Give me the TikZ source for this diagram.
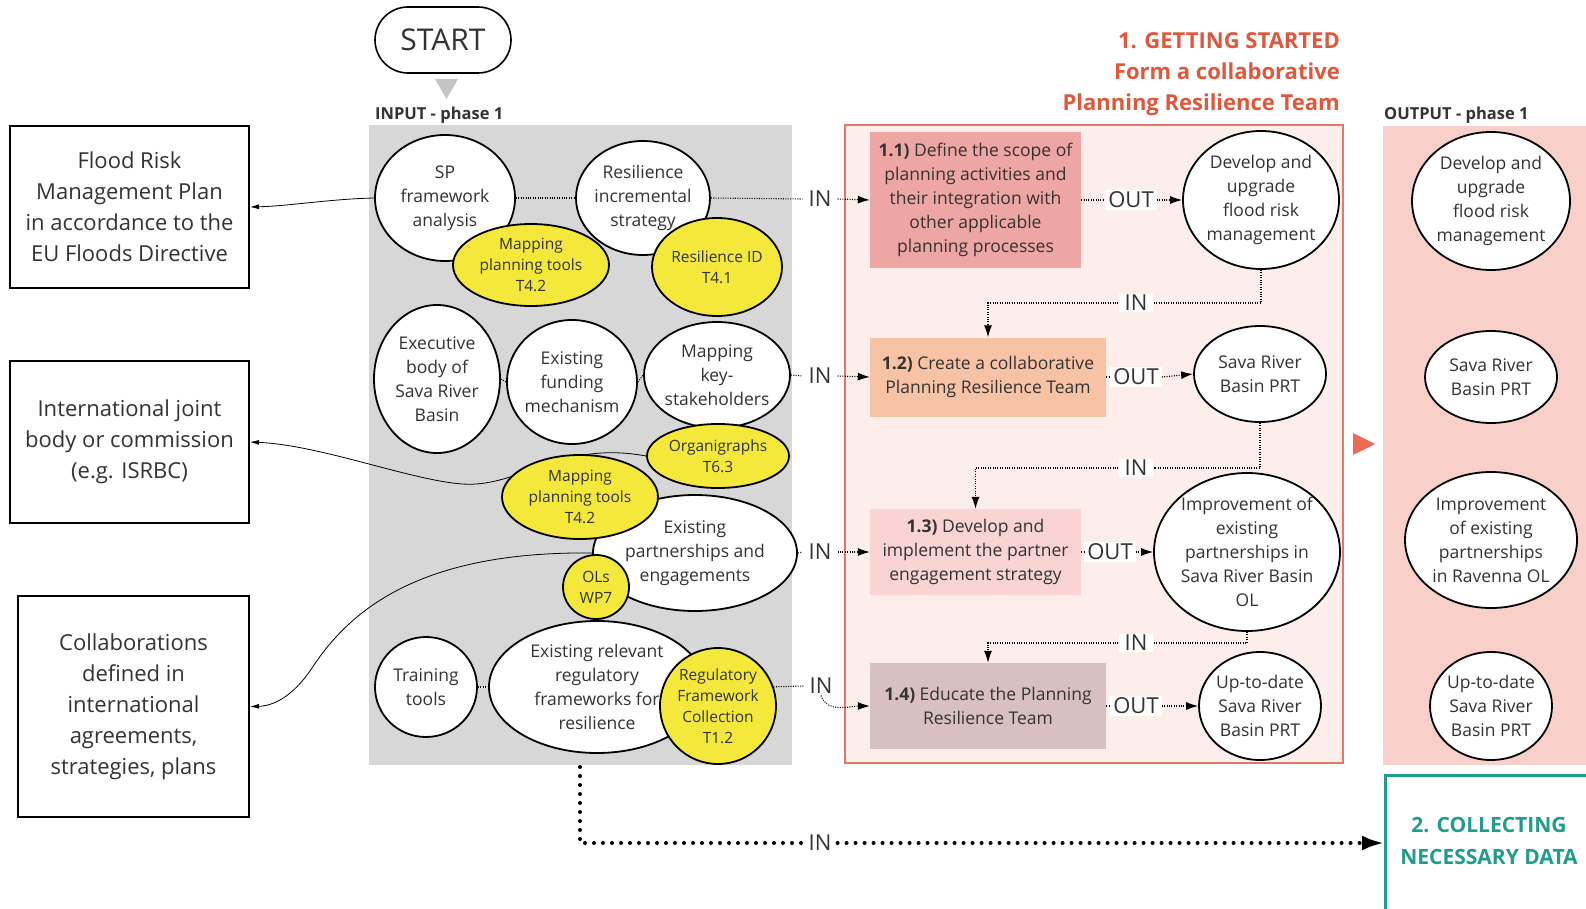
\documentclass[tikz,border=0pt]{standalone}
\usepackage{fontspec}
\setmainfont{Open Sans}
\usetikzlibrary{shapes.geometric,arrows.meta}
\pgfdeclarelayer{back}\pgfdeclarelayer{mid}
\pgfsetlayers{back,mid,main}
\definecolor{txt}{HTML}{333333}
\definecolor{graybg}{HTML}{D7D7D7}
\definecolor{yelc}{HTML}{F4E93A}
\definecolor{phasefill}{HTML}{FDEEEC}
\definecolor{phaseborder}{HTML}{DE7A68}
\definecolor{titlec}{HTML}{E0583C}
\definecolor{sa}{HTML}{EDA6A3}
\definecolor{sb}{HTML}{F8C3A4}
\definecolor{sc}{HTML}{FAD3D3}
\definecolor{sd}{HTML}{D9C0C0}
\definecolor{outfill}{HTML}{F8CFC9}
\definecolor{tric}{HTML}{EB6B55}
\definecolor{tealc}{HTML}{1E9C8C}
\definecolor{gtri}{HTML}{C4C4C4}
\begin{document}
\begin{tikzpicture}[x=1pt,y=-1pt,
  ell/.style={ellipse, draw=black, line width=1.8pt, fill=white, inner sep=-14pt, align=center, text=txt, font=\fontsize{17.5}{24}\selectfont},
  yel/.style={ell, fill=yelc, font=\fontsize{15.5}{21}\selectfont},
  sz/.style 2 args={minimum width={2*#1pt}, minimum height={2*#2pt}},
  stepbox/.style={rectangle, inner sep=0pt, align=center, text=txt, font=\fontsize{17.5}{24}\selectfont},
  lbox/.style={rectangle, draw=black, line width=2pt, inner sep=0pt, align=center, text=txt, font=\fontsize{22}{31}\selectfont},
  lab/.style={fill=white, inner xsep=3pt, inner ysep=1.5pt, text=txt, font=\fontsize{22}{22}\selectfont},
  labw/.style={lab, inner xsep=6pt},
  dotl/.style={line width=1.1pt, dash pattern=on 1pt off 1.4pt},
  dotarr/.style={dotl, -{Latex[length=12pt,width=8pt]}},
  thinarr/.style={line width=0.8pt, -{Latex[length=9pt,width=5pt]}},
  bigdot/.style={line width=4pt, line cap=round, dash pattern=on 0pt off 9pt},
  hdr/.style={inner sep=0pt, text=txt, font=\bfseries\fontsize{16.5}{20}\selectfont}
]
\useasboundingbox (0,0) rectangle (1586,909);
\clip (0,0) rectangle (1586,909);

% backgrounds
\begin{pgfonlayer}{back}
\fill[white] (0,0) rectangle (1586,909);
\fill[graybg] (369,125) rectangle (792,765);
\draw[fill=phasefill, draw=phaseborder, line width=2pt] (845,125) rectangle (1343,763);
\fill[outfill] (1383,126) rectangle (1586,765);
\end{pgfonlayer}

% start
\node[draw=black, line width=1.6pt, rounded corners=33pt, minimum width=136pt, minimum height=66pt, text=txt, font=\fontsize{30}{30}\selectfont] (start) at (443,40) {START};
\fill[gtri] (435,79) -- (458,79) -- (446.5,99) -- cycle;
\node[hdr, anchor=west] (inlab) at (375,115) {INPUT - phase 1};
\node[hdr, anchor=west] (outlab) at (1384,115) {OUTPUT - phase 1};

% title
\node[anchor=east, align=right, inner sep=0pt, text=titlec, font=\bfseries\fontsize{22}{31}\selectfont] (title) at (1340,74) {1. GETTING STARTED\\Form a collaborative\\Planning Resilience Team};

% left boxes
\node[lbox, minimum width=239pt, minimum height=162pt] (b1) at (129.5,207) {Flood Risk\\Management Plan\\in accordance to the\\EU Floods Directive};
\node[lbox, minimum width=239pt, minimum height=162pt] (b2) at (129.5,442) {International joint\\body or commission\\(e.g. ISRBC)};
\node[lbox, minimum width=231pt, minimum height=221pt] (b3) at (133.5,706.5) {Collaborations\\defined in\\international\\agreements,\\strategies, plans};

% input ellipses
\node[ell, sz={70}{63}] (sp) at (445,198) {SP\\framework\\analysis};
\node[ell, sz={67}{57}] (ri) at (643,198) {Resilience\\incremental\\strategy};
\node[yel, sz={78}{41}] (mp1) at (531,265) {Mapping\\planning tools\\T4.2};
\node[yel, sz={65}{49}] (rid) at (717,267) {Resilience ID\\T4.1};
\node[ell, sz={63}{74}] (eb) at (437,379) {Executive\\body of\\Sava River\\Basin};
\node[ell, sz={65}{62}] (ef) at (572,382) {Existing\\funding\\mechanism};
\node[ell, sz={73}{53}] (mk) at (717,375) {Mapping\\key-\\stakeholders};
\node[yel, sz={71}{32}] (org) at (718,456) {Organigraphs\\T6.3};
\node[ell, sz={102}{58}] (pe) at (695,553) {Existing\\partnerships and\\engagements};
\node[yel, sz={78}{42}] (mp2) at (580,497) {Mapping\\planning tools\\T4.2};
\node[yel, sz={33}{32}] (ols) at (596,587) {OLs\\WP7};
\node[ell, sz={51}{50}] (tt) at (426,687) {Training\\tools};
\node[ell, sz={108}{66}] (er) at (597,687) {Existing relevant\\regulatory\\frameworks for\\resilience};
\node[yel, sz={58}{58}] (rfc) at (718,706) {Regulatory\\Framework\\Collection\\T1.2};

% step boxes
\node[stepbox, fill=sa, minimum width=211pt, minimum height=136pt] (s11) at (975.5,200) {\textbf{1.1)} Define the scope of\\planning activities and\\their integration with\\other applicable\\planning processes};
\node[stepbox, fill=sb, minimum width=236pt, minimum height=79pt] (s12) at (988,377) {\textbf{1.2)} Create a collaborative\\Planning Resilience Team};
\node[stepbox, fill=sc, minimum width=211pt, minimum height=86pt] (s13) at (975.5,552) {\textbf{1.3)} Develop and\\implement the partner\\engagement strategy};
\node[stepbox, fill=sd, minimum width=236pt, minimum height=86pt] (s14) at (988,706) {\textbf{1.4)} Educate the Planning\\Resilience Team};

% phase outputs
\node[ell, sz={78}{69}] (o1) at (1261,200) {Develop and\\upgrade\\flood risk\\management};
\node[ell, sz={66}{48}] (o2) at (1260,374) {Sava River\\Basin PRT};
\node[ell, sz={93}{79}] (o3) at (1247,552) {Improvement of\\existing\\partnerships in\\Sava River Basin\\OL};
\node[ell, sz={61}{54}] (o4) at (1260,706) {Up-to-date\\Sava River\\Basin PRT};

% output column
\node[ell, sz={79}{69}] (op1) at (1491,201) {Develop and\\upgrade\\flood risk\\management};
\node[ell, sz={66}{46}] (op2) at (1491,377) {Sava River\\Basin PRT};
\node[ell, sz={86}{68}] (op3) at (1491,540) {Improvement\\of existing\\partnerships\\in Ravenna OL};
\node[ell, sz={61}{54}] (op4) at (1491,706) {Up-to-date\\Sava River\\Basin PRT};
\fill[tric] (1353,433) -- (1375,444) -- (1353,455) -- cycle;

% teal box
\node[draw=tealc, line width=2.5pt, minimum width=260pt, minimum height=170pt, anchor=north west] (c2box) at (1384,774) {};
\node[align=center, inner sep=0pt, text=tealc, font=\bfseries\fontsize{21}{32}\selectfont] (c2) at (1489,841) {2. COLLECTING\\NECESSARY DATA};

% IN / OUT labels
\node[labw] (in1) at (820,199) {IN};
\node[labw] (in2) at (820,376) {IN};
\node[labw] (in3) at (820,552) {IN};
\node[labw] (in4) at (821,686) {IN};
\node[labw] (in5) at (820,843) {IN};
\node[lab] (out1) at (1131,200) {OUT};
\node[lab] (out2) at (1136,377) {OUT};
\node[lab] (out3) at (1110,552) {OUT};
\node[lab] (out4) at (1136,706) {OUT};
\node[labw] (ina) at (1136,303) {IN};
\node[labw] (inb) at (1136,468) {IN};
\node[labw] (inc) at (1136,643) {IN};

% dotted links in input area
\draw[dotl] (sp.east) -- (ri.west);
\draw[dotl] (eb.east) -- (ef.west);
\draw[dotl] (ef.east) -- (mk.west);
\draw[dotl] (tt.east) -- (er.west);
\draw[dotl] (ri.east) -- (in1.west);
\draw[dotl] (mk.east) -- (in2.west);
\draw[dotl] (pe.east) -- (in3.west);
\draw[dotl] (rfc.19) -- (in4.west);
\draw[dotarr] (in1.east) -- (s11.west);
\draw[dotarr] (in2.east) -- (s12.west);
\draw[dotarr] (in3.east) -- (s13.west);
\draw[dotarr] (in4.south) to[out=-70,in=180] (s14.west);

% step -> out -> ellipse
\draw[dotl] (s11.east) -- (out1.west);
\draw[dotarr] (out1.east) -- (o1.west);
\draw[dotl] (s12.east) -- (out2.west);
\draw[dotarr] (out2.east) -- (o2.west);
\draw[dotl] (s13.east) -- (out3.west);
\draw[dotarr] (out3.east) -- (o3.west);
\draw[dotl] (s14.east) -- (out4.west);
\draw[dotarr] (out4.east) -- (o4.west);

% ellipse -> IN -> next step
\draw[dotl] (o1.south) |- (ina.east);
\draw[dotarr] (ina.west) -| (s12.north);
\draw[dotl] (o2.south) |- (inb.east);
\draw[dotarr] (inb.west) -| (s13.north);
\draw[dotl] (o3.south) |- (inc.east);
\draw[dotarr] (inc.west) -| (s14.north);

% big dotted to phase 2
\coordinate (gb) at (580,767);
\draw[bigdot] (gb) |- (in5.west);
\draw[bigdot, -{Latex[length=22pt,width=15pt]}] (in5.east) -- (in5 -| c2box.west);

% curves to left boxes
\begin{pgfonlayer}{mid}
\draw[thinarr] (sp.west) .. controls (330,199) and (290,206) .. (b1.east);
\draw[thinarr] (org.west) .. controls (560,440) and (520,488) .. (462,484) .. controls (410,480) and (320,445) .. (b2.east);
\draw[thinarr] (pe.west) .. controls (420,551) and (350,610) .. (312,668) .. controls (292,698) and (272,706) .. (b3.east);
\end{pgfonlayer}
\end{tikzpicture}
\end{document}
